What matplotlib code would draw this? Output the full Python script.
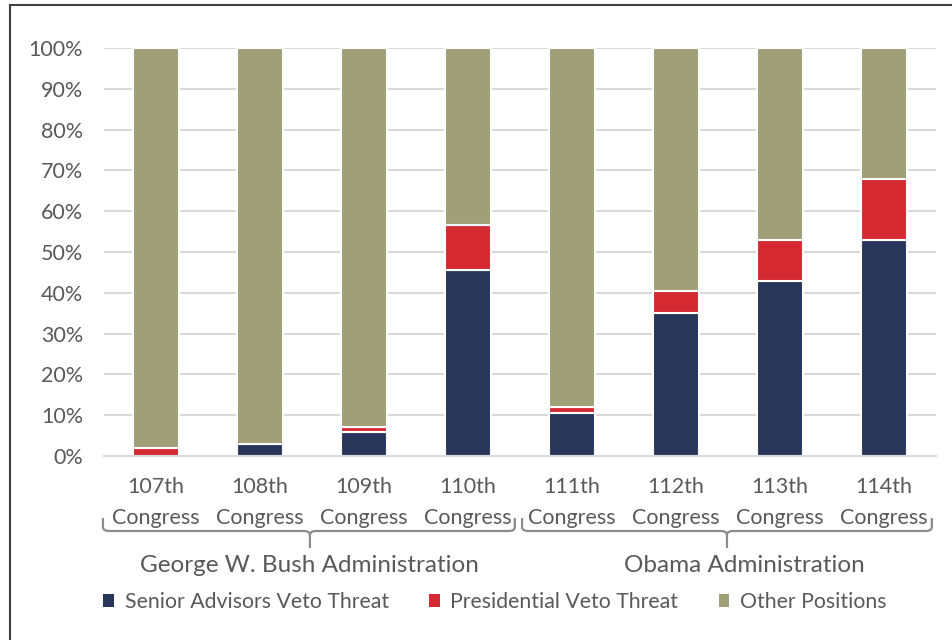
import matplotlib.pyplot as plt
from matplotlib.path import Path
from matplotlib.patches import PathPatch, Patch
from matplotlib.lines import Line2D
import matplotlib.transforms as mtransforms

plt.rcParams['font.family'] = ['Lato', 'DejaVu Sans']

congresses = ['107th\nCongress', '108th\nCongress', '109th\nCongress', '110th\nCongress',
              '111th\nCongress', '112th\nCongress', '113th\nCongress', '114th\nCongress']
senior = [0, 3, 6, 45.5, 10.5, 35, 43, 53]
presidential = [2, 0, 1, 11, 1.5, 5.5, 10, 15]
other = [98, 97, 93, 43.5, 88, 59.5, 47, 32]
series_names = ['Senior Advisors Veto Threat', 'Presidential Veto Threat', 'Other Positions']
administrations = ['George W. Bush Administration', 'Obama Administration']

navy = '#283659'
red = '#d62a33'
olive = '#a09f78'
text_gray = '#595959'
grid_gray = '#d9d9d9'

fig = plt.figure(figsize=(9.52, 6.4), dpi=100)
ax = fig.add_axes([104 / 952, 1 - 456 / 640, 832 / 952, 408 / 640])

x = list(range(len(congresses)))
w = 0.44
ax.bar(x, senior, w, color=navy, edgecolor='white', linewidth=1.5, zorder=3)
bottom2 = [s for s in senior]
ax.bar(x, presidential, w, bottom=bottom2, color=red, edgecolor='white', linewidth=1.5, zorder=3)
bottom3 = [s + p for s, p in zip(senior, presidential)]
ax.bar(x, other, w, bottom=bottom3, color=olive, edgecolor='white', linewidth=1.5, zorder=3)

ax.set_xlim(-0.5, 7.5)
ax.set_ylim(0, 100)
ax.set_yticks(range(0, 101, 10))
ax.set_yticklabels([f'{v}%' for v in range(0, 101, 10)])
ax.set_xticks(x)
ax.set_xticklabels(congresses, linespacing=1.7)
ax.tick_params(length=0, labelsize=15.5, colors=text_gray)
ax.tick_params(axis='y', pad=15)
ax.tick_params(axis='x', pad=15)
ax.grid(axis='y', color=grid_gray, linewidth=1.5, zorder=0)
for side in ['top', 'right', 'left']:
    ax.spines[side].set_visible(False)
ax.spines['bottom'].set_color(grid_gray)
ax.spines['bottom'].set_linewidth(1.5)
ax.spines['bottom'].set_zorder(4)

# curly brackets grouping congresses by administration
trans = mtransforms.blended_transform_factory(ax.transData, fig.transFigure)


def bracket(x0, x1, xm):
    yt, yh, yb = 1 - 518 / 640, 1 - 531 / 640, 1 - 548 / 640
    ry, rx = 4 / 640, 0.06
    verts = [(x0, yt), (x0, yh + ry), (x0, yh), (x0 + rx, yh),
             (xm - rx, yh), (xm, yh), (xm, yh - ry), (xm, yb),
             (xm, yh - ry), (xm, yh), (xm + rx, yh),
             (x1 - rx, yh), (x1, yh), (x1, yh + ry), (x1, yt)]
    codes = [Path.MOVETO, Path.LINETO, Path.CURVE3, Path.CURVE3,
             Path.LINETO, Path.CURVE3, Path.CURVE3, Path.LINETO,
             Path.MOVETO, Path.CURVE3, Path.CURVE3,
             Path.LINETO, Path.CURVE3, Path.CURVE3, Path.LINETO]
    patch = PathPatch(Path(verts, codes), transform=trans, fill=False,
                      edgecolor='#8c8c8c', linewidth=1.6, clip_on=False)
    fig.add_artist(patch)


bracket(-0.51, 3.45, 1.48)
bracket(3.52, 7.46, 5.49)

ax.text(1.48, 1 - 566 / 640, administrations[0], transform=trans, ha='center', va='center',
        fontsize=17.5, color=text_gray)
ax.text(5.66, 1 - 566 / 640, administrations[1], transform=trans, ha='center', va='center',
        fontsize=17.5, color=text_gray)

handles = [Patch(facecolor=c) for c in [navy, red, olive]]
leg = fig.legend(handles, series_names, loc='center', bbox_to_anchor=(0.52, 1 - 602 / 640),
                 ncol=3, frameon=False, fontsize=15.3, handlelength=0.5, handleheight=0.5,
                 handletextpad=0.5, columnspacing=1.9)
for t in leg.get_texts():
    t.set_color(text_gray)

# thin frame on the left and top edges
fig.add_artist(Line2D([10 / 952, 10 / 952], [0, 1 - 5 / 640], color='#404040', linewidth=1.5))
fig.add_artist(Line2D([10 / 952, 1], [1 - 5 / 640, 1 - 5 / 640], color='#404040', linewidth=1.5))

fig.savefig('out.png', dpi=100)
